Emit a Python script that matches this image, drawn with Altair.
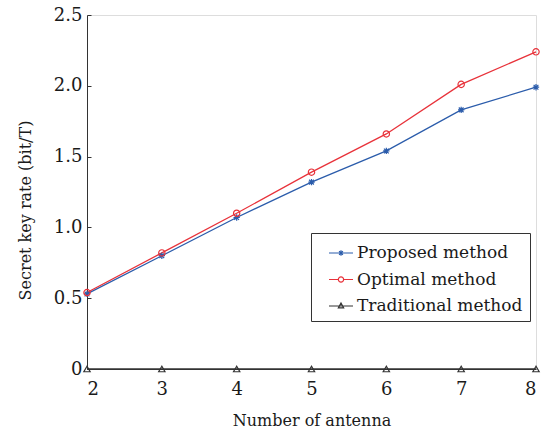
import altair as alt
import pandas as pd

antenna = [2, 3, 4, 5, 6, 7, 8]
proposed = [0.53, 0.80, 1.07, 1.32, 1.54, 1.83, 1.99]
optimal = [0.54, 0.82, 1.10, 1.39, 1.66, 2.01, 2.24]
traditional = [0, 0, 0, 0, 0, 0, 0]
series_names = ["Proposed method", "Optimal method", "Traditional method"]
series_colors = ["#2b5cab", "#e8323a", "#333333"]

rows = []
for name, vals in zip(series_names, [proposed, optimal, traditional]):
    for a, v in zip(antenna, vals):
        rows.append({"antenna": a, "rate": v, "method": name, "marker": name})
df = pd.DataFrame(rows)

FONT = "DejaVu Serif"
TXT = "#1a1a1a"
star = "M0,-1V1M-1,0H1M-0.75,-0.75L0.75,0.75M-0.75,0.75L0.75,-0.75"
marker_shapes = [star, "circle", "triangle-up"]

leg_star = "M-1,0H1M0,-0.22V0.22M-0.22,0H0.22M-0.16,-0.16L0.16,0.16M-0.16,0.16L0.16,-0.16"
leg_circle = "M-1,0H-0.22M0.22,0H1M-0.22,0A0.22,0.22 0 1,0 0.22,0A0.22,0.22 0 1,0 -0.22,0"
leg_tri = "M-1,0H1M0,-0.24L0.22,0.16L-0.22,0.16Z"
shape_expr = (
    f"datum.value === 'Proposed method' ? '{leg_star}' : "
    f"(datum.value === 'Optimal method' ? '{leg_circle}' : '{leg_tri}')"
)

color = alt.Color(
    "method:N",
    sort=series_names,
    scale=alt.Scale(domain=series_names, range=series_colors),
    legend=alt.Legend(
        title=None,
        orient="none",
        legendX=224,
        legendY=218,
        strokeColor="#333333",
        fillColor="white",
        padding=7,
        symbolOffset=10,
        symbolSize=576,
        symbolStrokeWidth=1.2,
        symbolType={"expr": shape_expr},
        symbolFillColor="transparent",
        labelFont=FONT,
        labelFontSize=17,
        labelColor=TXT,
        labelLimit=300,
        labelOffset=3,
        rowPadding=5.5,
    ),
)

x = alt.X(
    "antenna:Q",
    title="Number of antenna",
    scale=alt.Scale(domain=[2, 8], nice=False),
    axis=alt.Axis(
        values=antenna, format="d", grid=False, ticks=False,
        domainColor="#333333", labelFont=FONT, labelFontSize=18, labelColor=TXT,
        titleFont=FONT, titleFontSize=16, titleFontWeight="normal", titleColor=TXT,
        labelPadding=11, titlePadding=14,
    ),
)
y = alt.Y(
    "rate:Q",
    title="Secret key rate (bit/T)",
    scale=alt.Scale(domain=[0, 2.5], nice=False),
    axis=alt.Axis(
        values=[0, 0.5, 1.0, 1.5, 2.0, 2.5],
        labelExpr="datum.value == 0 ? '0' : format(datum.value, '.1f')",
        grid=False, tickSize={"expr": "-4"}, tickColor="#333333",
        domainColor="#333333", labelFont=FONT, labelFontSize=18, labelColor=TXT,
        titleFont=FONT, titleFontSize=16, titleFontWeight="normal", titleColor=TXT,
        labelPadding=9, titleX=-62, titleY=195, titleBaseline="middle",
    ),
)

lines = alt.Chart(df).mark_line(strokeWidth=1.3).encode(x=x, y=y, color=color, detail="method:N")
points = alt.Chart(df).mark_point(filled=False, size=40, strokeWidth=1.2, opacity=1).encode(
    x=x, y=y,
    color=alt.Color("marker:N", scale=alt.Scale(domain=series_names, range=series_colors), legend=None),
    shape=alt.Shape("marker:N", scale=alt.Scale(domain=series_names, range=marker_shapes), legend=None),
)

chart = (
    alt.layer(lines, points)
    .resolve_scale(color="independent", shape="independent")
    .properties(
        width=449, height=354,
        autosize=alt.AutoSizeParams(type="none"),
        padding={"left": 87, "top": 15, "right": 9, "bottom": 68},
    )
    .configure_view(stroke=None)
    .configure(background="white")
)

chart.save("out.html", embed_options={"renderer": "svg", "actions": False})
